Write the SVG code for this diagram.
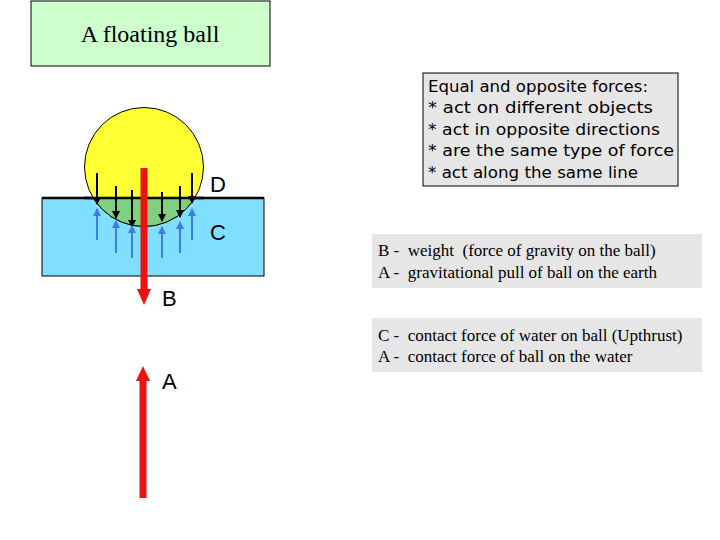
<svg xmlns="http://www.w3.org/2000/svg" width="720" height="540" viewBox="0 0 720 540">
<style>
.serif{font-family:"Liberation Serif",serif;fill:#000;white-space:pre}
.lbl{font-family:"Liberation Sans",Arial,sans-serif;font-size:22px;fill:#000}
.mono{font-family:"DejaVu Sans","Liberation Sans",sans-serif;font-size:15px;fill:#000}
.blk{stroke:#000;stroke-width:2;marker-end:url(#mb)}
.blu{stroke:#3a7ee0;stroke-width:2;marker-end:url(#mu)}
.red{stroke:#ee1111;stroke-width:7}
</style>
<defs>
<marker id="mb" markerWidth="8" markerHeight="8" refX="7" refY="4" orient="auto" markerUnits="userSpaceOnUse"><path d="M0,0 L8,4 L0,8 z" fill="#000"/></marker>
<marker id="mu" markerWidth="8" markerHeight="8" refX="7" refY="4" orient="auto" markerUnits="userSpaceOnUse"><path d="M0,0 L8,4 L0,8 z" fill="#3a7ee0"/></marker>
<clipPath id="below"><rect x="0" y="198" width="720" height="100"/></clipPath>
</defs>
<g id="title"><rect x="31" y="1" width="239" height="65" fill="#ccffcc" stroke="#000"/><text class="serif" x="150" y="42" font-size="24" text-anchor="middle">A floating ball</text></g>
<g id="water"><rect x="42" y="198" width="222" height="78" fill="#80dfff" stroke="#000" stroke-width="1"/><line x1="42" y1="198" x2="264" y2="198" stroke="#000" stroke-width="2.5"/></g>
<g id="ball"><circle cx="144" cy="167" r="59.5" fill="#ffff33" stroke="#000"/><circle cx="144" cy="167" r="59.5" fill="#80d080" stroke="#000" clip-path="url(#below)"/><line x1="84" y1="198" x2="204" y2="198" stroke="#000" stroke-width="2.5"/></g>
<g id="connectors">
<line class="blk" x1="97" y1="173" x2="97" y2="204"/>
<line class="blk" x1="116" y1="186" x2="116" y2="218"/>
<line class="blk" x1="132" y1="190" x2="132" y2="227"/>
<line class="blk" x1="162" y1="192" x2="162" y2="221"/>
<line class="blk" x1="180" y1="186" x2="180" y2="217"/>
<line class="blk" x1="192" y1="173" x2="192" y2="203"/>
<line class="blu" x1="97" y1="240" x2="97" y2="209"/>
<line class="blu" x1="116" y1="253" x2="116" y2="221"/>
<line class="blu" x1="132" y1="258" x2="132" y2="226"/>
<line class="blu" x1="162" y1="258" x2="162" y2="227"/>
<line class="blu" x1="180" y1="253" x2="180" y2="222"/>
<line class="blu" x1="192" y1="240" x2="192" y2="209"/>
<line class="red" x1="144" y1="168" x2="144" y2="290"/>
<path d="M137,289 L151,289 L144,305 z" fill="#ee1111"/>
<line class="red" x1="143" y1="498" x2="143" y2="380"/>
<path d="M136,381 L150,381 L143,366 z" fill="#ee1111"/>
</g>
<g id="labels">
<text class="lbl" x="210" y="192">D</text>
<text class="lbl" x="210" y="240">C</text>
<text class="lbl" x="162" y="306">B</text>
<text class="lbl" x="162" y="389">A</text>
</g>
<g id="box1"><rect x="423" y="73" width="255" height="113" fill="#e6e6e6" stroke="#000" stroke-width="1"/>
<text class="mono" x="428" y="92" textLength="220" lengthAdjust="spacingAndGlyphs">Equal and opposite forces:</text>
<text class="mono" x="428" y="113" textLength="225" lengthAdjust="spacingAndGlyphs">*  act on different objects</text>
<text class="mono" x="428" y="135" textLength="232" lengthAdjust="spacingAndGlyphs">*  act in opposite directions</text>
<text class="mono" x="428" y="156" textLength="246" lengthAdjust="spacingAndGlyphs">*  are the same type of force</text>
<text class="mono" x="428" y="178" textLength="210" lengthAdjust="spacingAndGlyphs">*  act along the same line</text></g>
<g id="box2"><rect x="372" y="234" width="330" height="54" fill="#e6e6e6"/>
<text class="serif" font-size="17" x="378" y="256">B -  weight  (force of gravity on the ball)</text>
<text class="serif" font-size="17" x="378" y="278">A -  gravitational pull of ball on the earth</text></g>
<g id="box3"><rect x="372" y="318" width="330" height="54" fill="#e6e6e6"/>
<text class="serif" font-size="17" x="378" y="341">C -  contact force of water on ball (Upthrust)</text>
<text class="serif" font-size="17" x="378" y="362">A -  contact force of ball on the water</text></g>
</svg>
